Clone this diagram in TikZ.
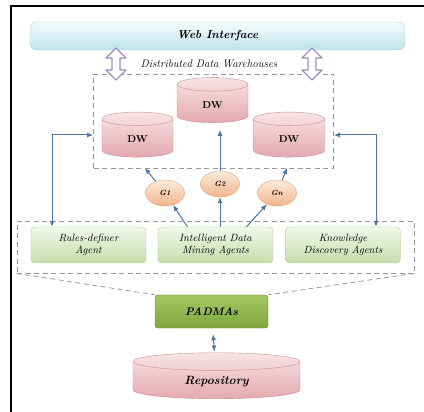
\documentclass[tikz,border=0pt]{standalone}
\usetikzlibrary{arrows.meta,calc,shapes.geometric}
\definecolor{webtop}{HTML}{F4FBFD}
\definecolor{webbot}{HTML}{BFE2EC}
\definecolor{webedge}{HTML}{A9CCD8}
\definecolor{dwtop}{HTML}{F8E4E6}
\definecolor{dwbot}{HTML}{E3A9AF}
\definecolor{dwedge}{HTML}{C98F96}
\definecolor{gtop}{HTML}{FDEBDC}
\definecolor{gbot}{HTML}{F2B48A}
\definecolor{gedge}{HTML}{DDA07A}
\definecolor{agtop}{HTML}{F1F7E9}
\definecolor{agbot}{HTML}{C7DDAC}
\definecolor{agedge}{HTML}{B3CB97}
\definecolor{padtop}{HTML}{A3C862}
\definecolor{padbot}{HTML}{7FA63E}
\definecolor{linkblue}{HTML}{4B78A6}
\definecolor{hollowedge}{HTML}{9D8DC2}

\begin{document}
\begin{tikzpicture}[x=1pt,y=-1pt,font=\fontsize{11}{13}\selectfont,
 agent/.style={draw=agedge,rounded corners=4pt,top color=agtop,bottom color=agbot,minimum width=115pt,minimum height=36pt,align=center,font=\fontsize{10.5}{12.5}\selectfont\itshape},
 dwcyl/.style={cylinder,shape border rotate=90,aspect=.5,draw=dwedge,top color=dwtop,bottom color=dwbot,minimum width=71pt,minimum height=45pt,font=\bfseries},
 gnode/.style={ellipse,draw=gedge,top color=gtop,bottom color=gbot,minimum width=39pt,minimum height=26pt,inner sep=0pt,font=\fontsize{7.5}{8}\selectfont\itshape\bfseries},
 frame/.style={draw=gray!80,dash pattern=on 5pt off 3.5pt,line width=.8pt},
 link/.style={draw=linkblue,line width=1pt,-{Latex[length=6pt,width=5pt]}},
 biarrow/.style={link,{Latex[length=6pt,width=5pt]}-{Latex[length=6pt,width=5pt]}},
 hollow/.style={draw=hollowedge,fill=white,line width=1.2pt,line join=round}]
 \useasboundingbox (0,0) rectangle (424,412);
 \draw[line width=2.5pt] (11,412)--(11,6)--(424,6);
 \node[draw=webedge,rounded corners=7pt,top color=webtop,bottom color=webbot,minimum width=375pt,minimum height=28pt,font=\fontsize{11.5}{13}\selectfont\bfseries\itshape] (web) at (217.5,36) {Web Interface};
 \node[frame,minimum width=240pt,minimum height=94pt] (dwbox) at (213.5,121) {};
 \node[font=\fontsize{11}{12}\selectfont\itshape] (dwlabel) at (209,64) {Distributed Data Warehouses};
 \foreach \ax in {116,312}
  \draw[hollow] (\ax-4,58)--(\ax-10,58)--(\ax,48)--(\ax+10,58)--(\ax+4,58)--(\ax+4,70)--(\ax+10,70)--(\ax,80)--(\ax-10,70)--(\ax-4,70)--cycle;
 \node[dwcyl] (dwc) at (212.5,105) {DW};
 \node[dwcyl] (dwl) at (137.5,139.5) {DW};
 \node[dwcyl] (dwr) at (289,139.5) {DW};
 \node[gnode] (g1) at (165,193) {G1};
 \node[gnode] (g2) at (220,184) {G2};
 \node[gnode] (g3) at (277,193) {Gn};
 \node[frame,minimum width=397pt,minimum height=52pt] (agbox) at (215.5,247) {};
 \node[agent] (rules) at (88.5,245) {Rules-definer\\Agent};
 \node[agent] (idm) at (215.5,245) {Intelligent Data\\Mining Agents};
 \node[agent] (kd) at (343,245) {Knowledge\\Discovery Agents};
 \node[draw=padbot!80!black,rounded corners=3pt,top color=padtop,bottom color=padbot,minimum width=113pt,minimum height=33pt,font=\fontsize{11}{13}\selectfont\bfseries\itshape] (padmas) at (211.5,311.5) {PADMAs};
 \node[cylinder,shape border rotate=90,aspect=.25,draw=dwedge,top color=dwtop,bottom color=dwbot,minimum width=167pt,minimum height=46pt,font=\fontsize{12}{14}\selectfont\bfseries\itshape] (repo) at (216.5,381.5) {Repository};
 % arrows into the warehouses
 \coordinate (t1) at (145,168);
 \coordinate (t3) at (287,168);
 \draw[link] (g1)--(t1);
 \draw[link,shorten >=7pt] (g2)--(g2 |- dwc.south);
 \draw[link] (g3)--(t3);
 \draw[link] ([xshift=-28pt]idm.north)--(g1);
 \draw[link] (idm.north -| g2)--(g2);
 \draw[link] ([xshift=31pt]idm.north)--(g3);
 \draw[biarrow] ([xshift=-36.5pt]rules.north) |- ([yshift=-14pt]dwbox.west);
 \draw[biarrow] ([xshift=33pt]kd.north) |- ([yshift=-14pt]dwbox.east);
 % PADMAs
 \draw[frame] (agbox.south west)--(padmas.north west) (agbox.south east)--(padmas.north east);
 \draw[biarrow,shorten <=6pt,shorten >=1pt] (padmas)--(repo);
\end{tikzpicture}
\end{document}
